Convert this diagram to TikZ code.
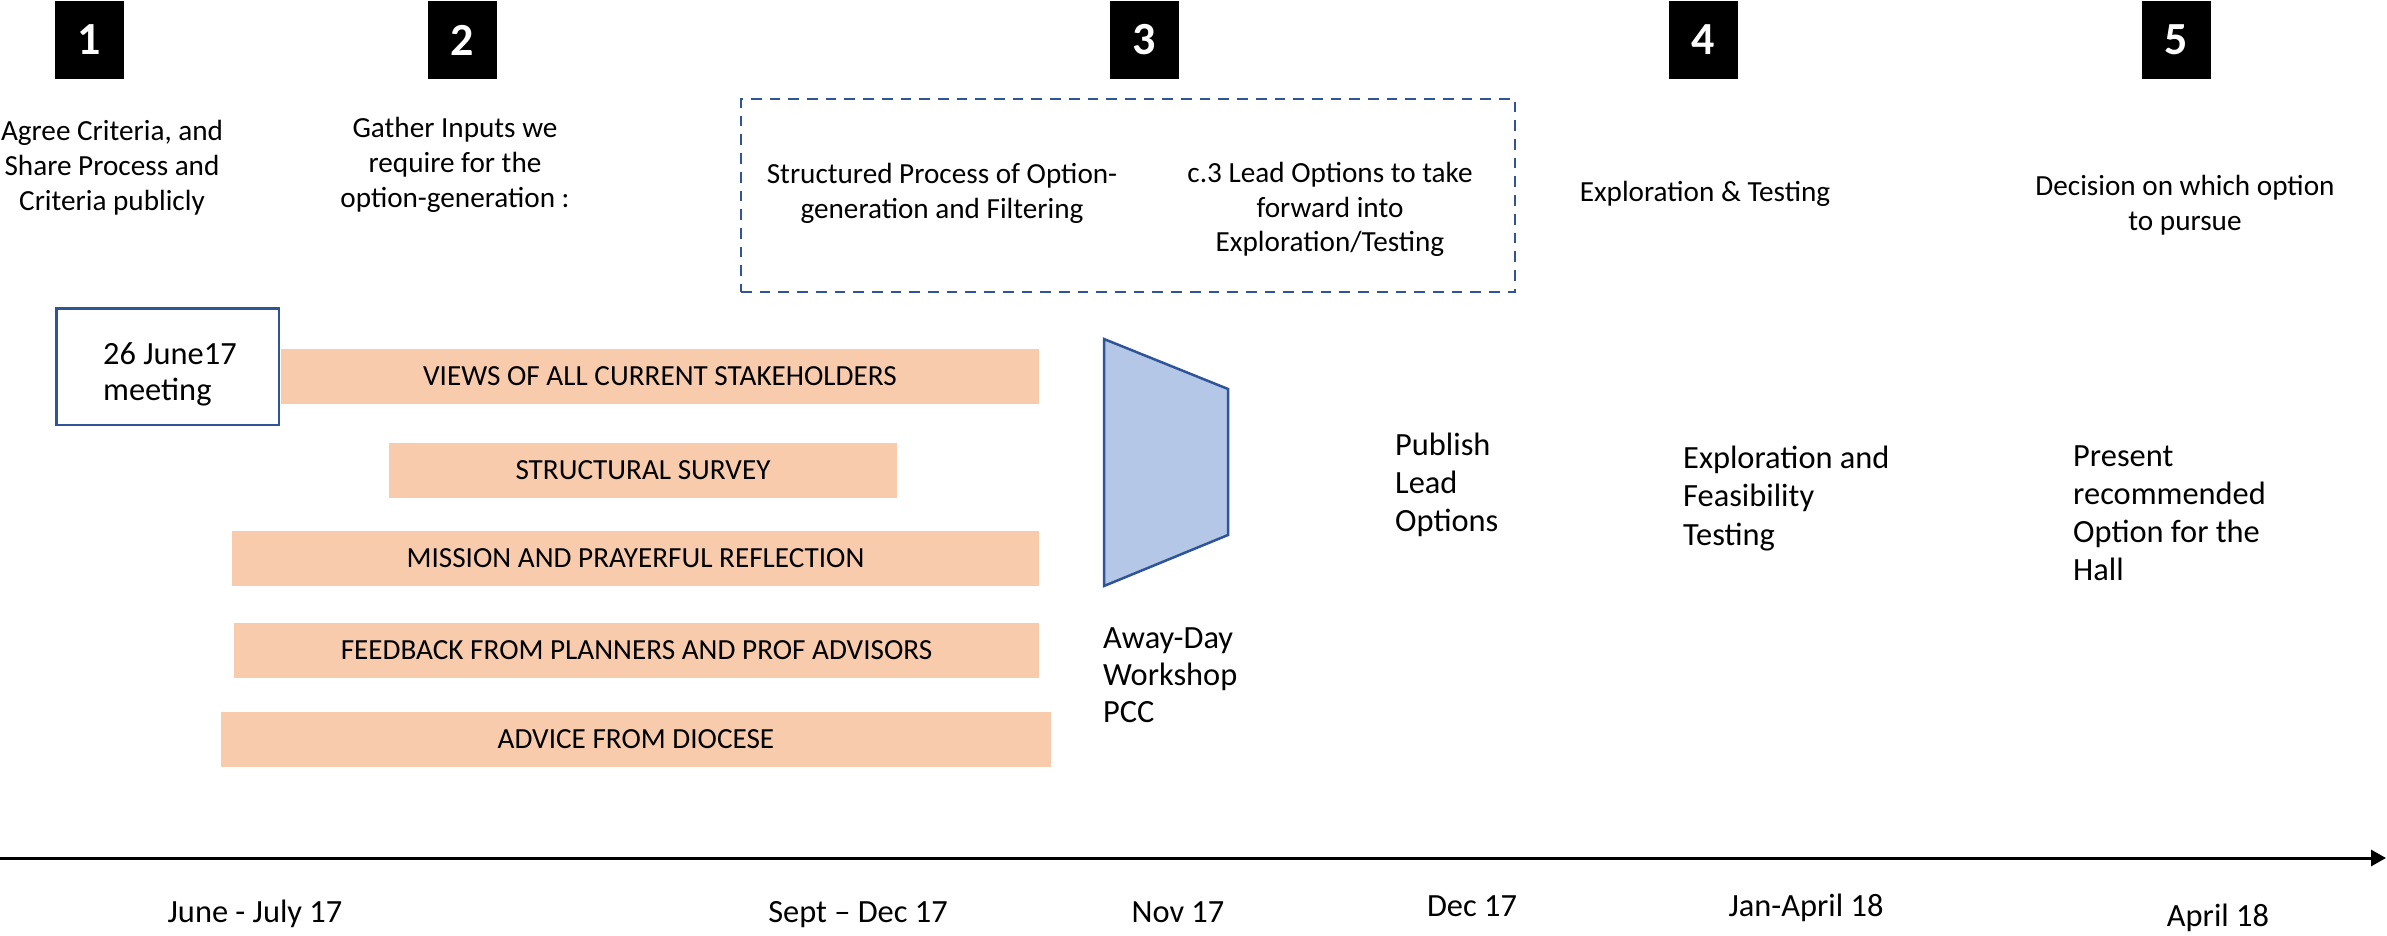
\documentclass[tikz,border=0pt]{standalone}
\usepackage{fontspec}
\setmainfont{Carlito}
\usetikzlibrary{arrows.meta}
\definecolor{peach}{HTML}{F8CBAD}
\definecolor{navy}{HTML}{2F5597}
\definecolor{paleblue}{HTML}{B4C7E7}
\newcommand\mlc[1]{\begin{tabular}[t]{@{}c@{}}#1\end{tabular}}
\newcommand\mll[1]{\begin{tabular}[t]{@{}l@{}}#1\end{tabular}}
\begin{document}
\begin{tikzpicture}[x=1pt,y=-1pt,
  numbox/.style={fill=black,text=white,inner sep=0pt,minimum width=69pt,minimum height=78pt,
    font=\bfseries\fontsize{46}{46}\selectfont},
  bar/.style={fill=peach,inner sep=0pt,minimum height=55pt,font=\fontsize{29.2}{35}\selectfont},
  smalltxt/.style={inner sep=0pt,font=\fontsize{29.2}{35}\selectfont},
  bigtxt/.style={inner sep=0pt,font=\fontsize{32.4}{38}\selectfont},
  outline/.style={draw=navy,line width=2.5pt}]
\useasboundingbox (0,0) rectangle (2387,936);

% step numbers
\node[numbox] (n1) at (89.5,40) {1};
\node[numbox] (n2) at (462.5,40) {2};
\node[numbox] (n3) at (1144,40) {3};
\node[numbox] (n4) at (1703.5,40) {4};
\node[numbox] (n5) at (2176.5,40) {5};

% stage headings
\node[smalltxt,anchor=base] (t1) at (112,141) {\mlc{Agree Criteria, and\\Share Process and\\Criteria publicly}};
\node[smalltxt,anchor=base] (t2) at (455,138) {\mlc{Gather Inputs we\\require for the\\option-generation :}};
\node[draw=navy,line width=2.8pt,dash pattern=on 10.7pt off 8pt,minimum width=774pt,minimum height=193pt,inner sep=0pt] (stage3) at (1128,195.5) {};
\node[smalltxt,anchor=base,font=\fontsize{29.2}{34.5}\selectfont] (t3a) at (942,184) {\mlc{Structured Process of Option-\\generation and Filtering}};
\node[smalltxt,anchor=base,font=\fontsize{29.2}{34.5}\selectfont] (t3b) at (1330,183) {\mlc{c.3 Lead Options to take\\forward into\\Exploration/Testing}};
\node[smalltxt,anchor=base] (t4) at (1705,202) {Exploration \& Testing};
\node[smalltxt,anchor=base] (t5) at (2185,196) {\mlc{Decision on which option\\to pursue}};

% input bars
\node[bar,minimum width=758pt] (b1) at (660,376.5) {VIEWS OF ALL CURRENT STAKEHOLDERS};
\node[bar,minimum width=508pt] (b2) at (643,470.5) {STRUCTURAL SURVEY};
\node[bar,minimum width=807pt] (b3) at (635.5,558.5) {MISSION AND PRAYERFUL REFLECTION};
\node[bar,minimum width=805pt] (b4) at (636.5,650.5) {FEEDBACK FROM PLANNERS AND PROF ADVISORS};
\node[bar,minimum width=830pt] (b5) at (636,739.5) {ADVICE FROM DIOCESE};

% meeting box
\node[outline,fill=white,minimum width=222.5pt,minimum height=116.5pt,inner sep=0pt] (meet) at (167.5,366.5) {};
\node[bigtxt,anchor=base west,font=\fontsize{32.4}{36}\selectfont] (meettxt) at (103,364) {\mll{26 June17\\meeting}};

% workshop funnel
\coordinate (f1) at (1104,339);
\coordinate (f2) at (1228,389);
\coordinate (f3) at (1228,535);
\coordinate (f4) at (1104,586);
\draw[outline,fill=paleblue,line join=miter] (f1) -- (f2) -- (f3) -- (f4) -- cycle;
\node[bigtxt,anchor=base west,font=\fontsize{32.4}{37}\selectfont] (away) at (1103,648) {\mll{Away-Day\\Workshop\\PCC}};

% later stages
\node[bigtxt,anchor=base west] (publish) at (1395,455) {\mll{Publish\\Lead\\Options}};
\node[bigtxt,anchor=base west,font=\fontsize{32.4}{38.5}\selectfont] (explore) at (1683,468) {\mll{Exploration and\\Feasibility\\Testing}};
\node[bigtxt,anchor=base west,font=\fontsize{32.4}{38}\selectfont] (present) at (2073,466) {\mll{Present\\recommended\\Option for the\\Hall}};

% time axis
\coordinate (axs) at (0,858);
\coordinate (axe) at (2386,858);
\draw[line width=3pt,-{Triangle[length=15pt,width=16pt]}] (axs) -- (axe);

% dates
\node[bigtxt,anchor=base] (d1) at (255,922) {June - July 17};
\node[bigtxt,anchor=base] (d2) at (858,922) {Sept – Dec 17};
\node[bigtxt,anchor=base] (d3) at (1178,922) {Nov 17};
\node[bigtxt,anchor=base] (d4) at (1472,916) {Dec 17};
\node[bigtxt,anchor=base] (d5) at (1806,916) {Jan-April 18};
\node[bigtxt,anchor=base] (d6) at (2218,926) {April 18};
\end{tikzpicture}
\end{document}
